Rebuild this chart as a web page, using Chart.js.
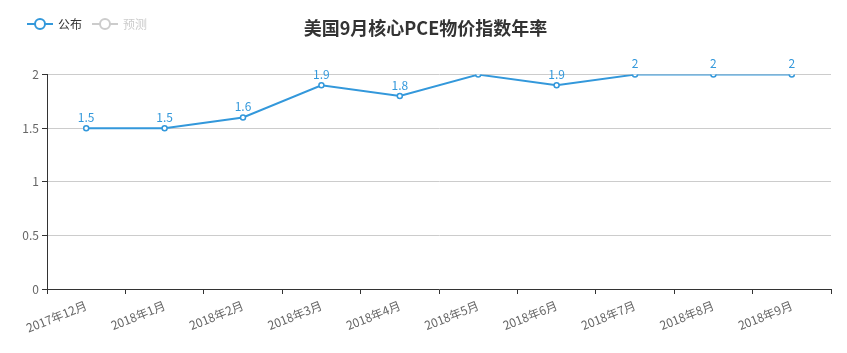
<!DOCTYPE html>
<html>
<head>
<meta charset="utf-8">
<script src="https://cdn.jsdelivr.net/npm/chart.js@4/dist/chart.umd.min.js"></script>
<style>
  html, body { margin: 0; padding: 0; background: #fff; }
  #wrap { width: 847px; height: 353px; position: relative; }
</style>
</head>
<body>
<div id="wrap"><canvas id="pceChart"></canvas></div>
<script>
const months = ['2017年12月', '2018年1月', '2018年2月', '2018年3月', '2018年4月',
    '2018年5月', '2018年6月', '2018年7月', '2018年8月', '2018年9月'];
const published = [1.5, 1.5, 1.6, 1.9, 1.8, 2, 1.9, 2, 2, 2];
const forecast = [];
const hiddenLabels = [5];
const yTicks = [0, 0.5, 1, 1.5, 2];

const FONT = '"Noto Sans CJK SC", "Noto Sans", sans-serif';
const BLUE = '#3398DB';

// legend drawn like echarts: line + hollow circle
const legendPlugin = {
    id: 'lineLegend',
    afterDraw(chart) {
        const ctx = chart.ctx;
        const items = [
            { text: '公布', color: BLUE, textColor: '#333', x: 27 },
            { text: '预测', color: '#ccc', textColor: '#ccc', x: 92 }
        ];
        ctx.save();
        items.forEach(it => {
            const y = 24;
            ctx.strokeStyle = it.color;
            ctx.lineWidth = 2;
            ctx.beginPath();
            ctx.moveTo(it.x, y);
            ctx.lineTo(it.x + 26, y);
            ctx.stroke();
            ctx.beginPath();
            ctx.arc(it.x + 13, y, 5, 0, Math.PI * 2);
            ctx.fillStyle = '#fff';
            ctx.fill();
            ctx.stroke();
            ctx.fillStyle = it.textColor;
            ctx.font = '12px ' + FONT;
            ctx.textBaseline = 'middle';
            ctx.textAlign = 'left';
            ctx.fillText(it.text, it.x + 31, y);
        });
        ctx.restore();
    }
};

// value labels above the points
const valueLabels = {
    id: 'valueLabels',
    afterDatasetsDraw(chart) {
        const ctx = chart.ctx;
        const meta = chart.getDatasetMeta(0);
        ctx.save();
        ctx.fillStyle = BLUE;
        ctx.font = '12px ' + FONT;
        ctx.textAlign = 'center';
        ctx.textBaseline = 'bottom';
        meta.data.forEach((pt, i) => {
            if (hiddenLabels.includes(i)) return;
            ctx.fillText(String(published[i]), pt.x, pt.y - 5);
        });
        ctx.restore();
    }
};

new Chart(document.getElementById('pceChart'), {
    type: 'line',
    data: {
        labels: months,
        datasets: [
            {
                label: '公布',
                data: published,
                borderColor: BLUE,
                backgroundColor: '#fff',
                borderWidth: 2,
                pointRadius: 2.5,
                pointBorderWidth: 1.5,
                pointBackgroundColor: '#fff',
                pointBorderColor: BLUE,
                tension: 0
            },
            {
                label: '预测',
                data: forecast,
                borderColor: '#ccc',
                hidden: true
            }
        ]
    },
    options: {
        responsive: true,
        maintainAspectRatio: false,
        animation: false,
        layout: { padding: { top: 0, right: 16, bottom: 0, left: 20 } },
        scales: {
            x: {
                offset: true,
                grid: {
                    offset: true,
                    drawOnChartArea: false,
                    drawTicks: true,
                    tickLength: 5,
                    tickColor: '#333'
                },
                border: { color: '#333', width: 1 },
                ticks: {
                    color: '#666',
                    font: { family: FONT, size: 12 },
                    minRotation: 22,
                    maxRotation: 22,
                    autoSkip: false,
                    padding: 4
                },
                afterFit(scale) { scale.height = 64; }
            },
            y: {
                min: 0,
                max: 2,
                afterBuildTicks(scale) {
                    scale.ticks = yTicks.map(v => ({ value: v }));
                },
                grid: {
                    color: '#ccc',
                    tickColor: '#333',
                    tickLength: 5
                },
                border: { color: '#333', width: 1 },
                ticks: {
                    color: '#666',
                    font: { family: FONT, size: 12 },
                    padding: 3,
                    callback: v => String(v)
                },
                afterFit(scale) { scale.width = 27; }
            }
        },
        plugins: {
            legend: { display: false },
            tooltip: { enabled: false },
            title: {
                display: true,
                text: '美国9月核心PCE物价指数年率',
                color: '#333',
                font: { family: FONT, size: 18, weight: 'bold' },
                padding: { top: 17, bottom: 36 }
            }
        }
    },
    plugins: [legendPlugin, valueLabels]
});
</script>
</body>
</html>
